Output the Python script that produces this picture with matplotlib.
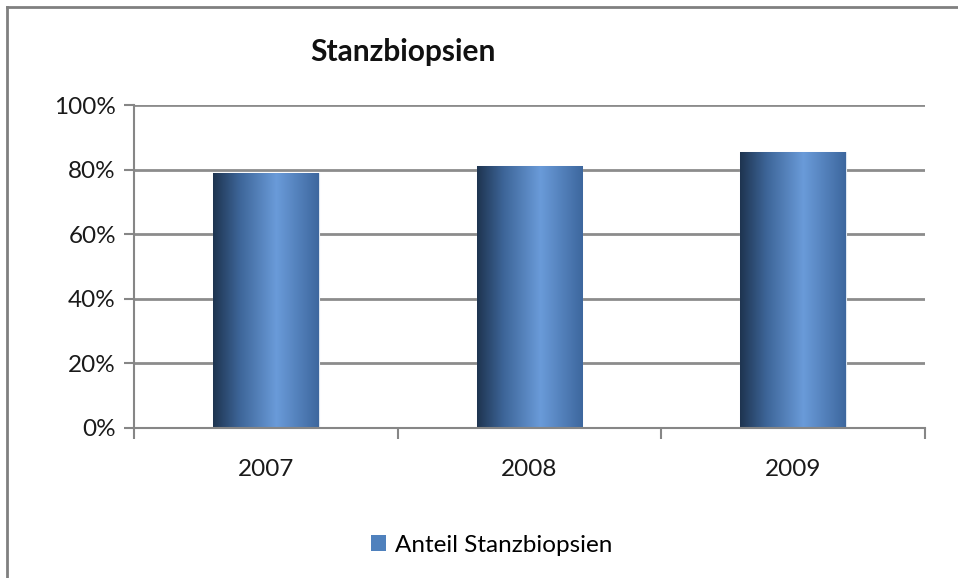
import matplotlib
matplotlib.use("Agg")
import matplotlib.pyplot as plt
import numpy as np
from matplotlib.colors import LinearSegmentedColormap
from matplotlib.patches import Patch
from matplotlib.lines import Line2D

years = ["2007", "2008", "2009"]
values = [0.79, 0.81, 0.853]
series_name = "Anteil Stanzbiopsien"
title = "Stanzbiopsien"
yticks = [0, 0.2, 0.4, 0.6, 0.8, 1.0]

plt.rcParams['font.family'] = ['Lato', 'DejaVu Sans']

fig = plt.figure(figsize=(9.58, 5.78), dpi=100)
ax = fig.add_axes([134/958, 1-428/578, 791/958, 323/578])

x = np.arange(len(years))
bars = ax.bar(x, values, width=0.4, color="#4f81bd", zorder=2)

cmap = LinearSegmentedColormap.from_list("g", [(0, "#1e3450"), (0.25, "#3d6598"), (0.6, "#6a9bd9"), (1.0, "#3d679e")])
grad = np.linspace(0, 1, 256).reshape(1, -1)
for b in bars:
    x0, y0 = b.get_x(), b.get_y()
    w, h = b.get_width(), b.get_height()
    im = ax.imshow(grad, cmap=cmap, aspect="auto", extent=[x0, x0+w, y0, y0+h], zorder=3)
    im.set_clip_path(b)
    b.set_facecolor("none")
    b.set_edgecolor("#dde6f0")
    b.set_linewidth(0.8)

ax.set_xlim(-0.5, len(years)-0.5)
ax.set_ylim(0, 1.0)
ax.set_yticks(yticks)
ax.set_yticklabels([f"{int(round(v*100))}%" for v in yticks], fontsize=17.5, color="#1a1a1a")
ax.set_xticks(x)
ax.set_xticklabels(years, fontsize=17.5, color="#1a1a1a")
ax.set_xticks(np.arange(-0.5, len(years)), minor=True)
ax.tick_params(axis="x", which="major", length=0, pad=22)
ax.tick_params(axis="x", which="minor", length=8, width=1.5, color="#868686", direction="out")
ax.tick_params(axis="y", length=7, width=1.5, color="#868686", direction="out", pad=6)
for yv in yticks[1:]:
    ax.axhline(yv, color="#8c8c8c", lw=2, zorder=1)
for s in ["top", "right"]:
    ax.spines[s].set_visible(False)
for s in ["left", "bottom"]:
    ax.spines[s].set_color("#868686")
    ax.spines[s].set_linewidth(1.5)
ax.spines["bottom"].set_zorder(4)

fig.text(403/958, 1-52/578, title, fontsize=21.5, fontweight="bold", ha="center", va="center", color="#111111")

fig.legend(handles=[Patch(facecolor="#4f81bd", edgecolor="none", label=series_name)],
           loc="center", bbox_to_anchor=(492/958, 1-545/578), frameon=False,
           fontsize=17.5, handlelength=0.6, handleheight=0.6, handletextpad=0.4)

fig.add_artist(Line2D([7/958, 7/958], [0, 1-7/578], transform=fig.transFigure, color="#808080", lw=2))
fig.add_artist(Line2D([7/958, 1], [1-7/578, 1-7/578], transform=fig.transFigure, color="#808080", lw=2))

fig.savefig("out.png", dpi=100)
